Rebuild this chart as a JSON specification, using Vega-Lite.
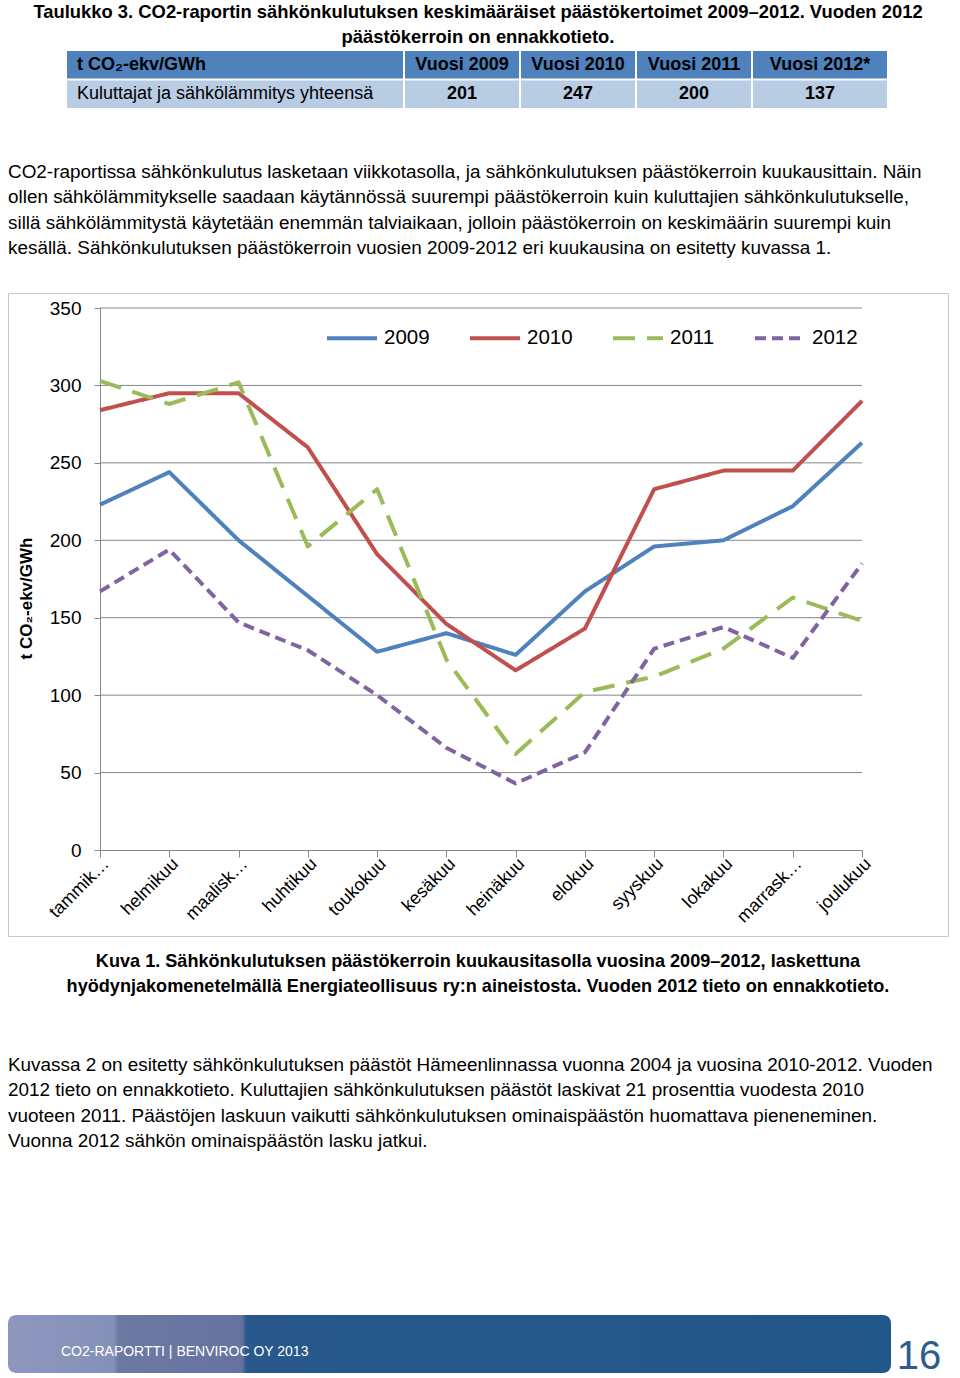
{
  "$schema": "https://vega.github.io/schema/vega-lite/v6.json",
  "background": "white",
  "padding": {"left": 7, "top": 2, "right": 0, "bottom": 3},
  "spacing": 34,
  "resolve": {"scale": {"color": "independent", "strokeDash": "independent"}, "legend": {"color": "independent", "strokeDash": "independent"}},
  "config": {
    "font": "Liberation Sans",
    "view": {"stroke": null},
    "title": {"font": "Liberation Sans", "color": "#000000"}
  },
  "title": {
    "text": ["Taulukko 3. CO2-raportin sähkönkulutuksen keskimääräiset päästökertoimet 2009–2012.  Vuoden 2012", "päästökerroin on ennakkotieto."],
    "anchor": "middle", "fontSize": 18.4, "fontWeight": "bold", "lineHeight": 25, "offset": 5
  },
  "datasets": {
    "table": [
      {"row": "h", "col": "label", "text": "t CO₂-ekv/GWh"},
      {"row": "h", "col": "2009", "text": "Vuosi 2009"},
      {"row": "h", "col": "2010", "text": "Vuosi 2010"},
      {"row": "h", "col": "2011", "text": "Vuosi 2011"},
      {"row": "h", "col": "2012", "text": "Vuosi 2012*"},
      {"row": "d", "col": "label", "text": "Kuluttajat ja sähkölämmitys yhteensä"},
      {"row": "d", "col": "2009", "text": "201"},
      {"row": "d", "col": "2010", "text": "247"},
      {"row": "d", "col": "2011", "text": "200"},
      {"row": "d", "col": "2012", "text": "137"}
    ],
    "grid": [{"v": 50}, {"v": 100}, {"v": 150}, {"v": 200}, {"v": 250}, {"v": 300}, {"v": 350}],
    "monthly": [
      {"month": "tammikuu", "year": "2009", "value": 223},
      {"month": "helmikuu", "year": "2009", "value": 244},
      {"month": "maaliskuu", "year": "2009", "value": 200},
      {"month": "huhtikuu", "year": "2009", "value": 164},
      {"month": "toukokuu", "year": "2009", "value": 128},
      {"month": "kesäkuu", "year": "2009", "value": 140},
      {"month": "heinäkuu", "year": "2009", "value": 126},
      {"month": "elokuu", "year": "2009", "value": 167},
      {"month": "syyskuu", "year": "2009", "value": 196},
      {"month": "lokakuu", "year": "2009", "value": 200},
      {"month": "marraskuu", "year": "2009", "value": 222},
      {"month": "joulukuu", "year": "2009", "value": 263},
      {"month": "tammikuu", "year": "2010", "value": 284},
      {"month": "helmikuu", "year": "2010", "value": 295},
      {"month": "maaliskuu", "year": "2010", "value": 295},
      {"month": "huhtikuu", "year": "2010", "value": 260},
      {"month": "toukokuu", "year": "2010", "value": 191},
      {"month": "kesäkuu", "year": "2010", "value": 146},
      {"month": "heinäkuu", "year": "2010", "value": 116},
      {"month": "elokuu", "year": "2010", "value": 143},
      {"month": "syyskuu", "year": "2010", "value": 233},
      {"month": "lokakuu", "year": "2010", "value": 245},
      {"month": "marraskuu", "year": "2010", "value": 245},
      {"month": "joulukuu", "year": "2010", "value": 290},
      {"month": "tammikuu", "year": "2011", "value": 303},
      {"month": "helmikuu", "year": "2011", "value": 288},
      {"month": "maaliskuu", "year": "2011", "value": 302},
      {"month": "huhtikuu", "year": "2011", "value": 196},
      {"month": "toukokuu", "year": "2011", "value": 233},
      {"month": "kesäkuu", "year": "2011", "value": 123},
      {"month": "heinäkuu", "year": "2011", "value": 62},
      {"month": "elokuu", "year": "2011", "value": 102},
      {"month": "syyskuu", "year": "2011", "value": 112},
      {"month": "lokakuu", "year": "2011", "value": 130},
      {"month": "marraskuu", "year": "2011", "value": 163},
      {"month": "joulukuu", "year": "2011", "value": 148},
      {"month": "tammikuu", "year": "2012", "value": 167},
      {"month": "helmikuu", "year": "2012", "value": 194},
      {"month": "maaliskuu", "year": "2012", "value": 147},
      {"month": "huhtikuu", "year": "2012", "value": 129},
      {"month": "toukokuu", "year": "2012", "value": 100},
      {"month": "kesäkuu", "year": "2012", "value": 66},
      {"month": "heinäkuu", "year": "2012", "value": 43},
      {"month": "elokuu", "year": "2012", "value": 63},
      {"month": "syyskuu", "year": "2012", "value": 130},
      {"month": "lokakuu", "year": "2012", "value": 144},
      {"month": "marraskuu", "year": "2012", "value": 124},
      {"month": "joulukuu", "year": "2012", "value": 185}
    ]
  },
  "vconcat": [
    {
      "width": 940,
      "height": 57,
      "data": {"name": "table"},
      "title": {
        "text": [
          "CO2-raportissa sähkönkulutus lasketaan viikkotasolla, ja sähkönkulutuksen päästökerroin kuukausittain. Näin",
          "ollen sähkölämmitykselle saadaan käytännössä suurempi päästökerroin kuin kuluttajien sähkönkulutukselle,",
          "sillä sähkölämmitystä käytetään enemmän talviaikaan, jolloin päästökerroin on keskimäärin suurempi kuin",
          "kesällä. Sähkönkulutuksen päästökerroin vuosien 2009-2012 eri kuukausina on esitetty kuvassa 1."
        ],
        "orient": "bottom", "anchor": "start", "frame": "group", "offset": 55,
        "fontSize": 18.9, "fontWeight": "normal", "lineHeight": 25.3
      },
      "encoding": {
        "y": {"field": "row", "type": "nominal", "axis": null,
              "scale": {"domain": ["h", "d"], "paddingInner": 0.06, "paddingOuter": 0}}
      },
      "layer": [
        {
          "transform": [{"filter": "datum.row == 'h' && datum.col == 'label'"}],
          "mark": {"type": "rect", "color": "#4F81BD"},
          "encoding": {
            "x": {"field": "col", "type": "nominal", "axis": null,
                  "scale": {"type": "band", "range": [59, 395], "paddingInner": 0, "paddingOuter": 0}}
          }
        },
        {
          "transform": [{"filter": "datum.row == 'd' && datum.col == 'label'"}],
          "mark": {"type": "rect", "color": "#B8CCE4"},
          "encoding": {
            "x": {"field": "col", "type": "nominal", "axis": null,
                  "scale": {"type": "band", "range": [59, 395], "paddingInner": 0, "paddingOuter": 0}}
          }
        },
        {
          "transform": [{"filter": "datum.row == 'h' && datum.col != 'label' && datum.col != '2012'"}],
          "mark": {"type": "rect", "color": "#4F81BD"},
          "encoding": {
            "x": {"field": "col", "type": "nominal", "axis": null,
                  "scale": {"type": "band", "domain": ["2009", "2010", "2011"], "range": [397, 743], "paddingInner": 0.017, "paddingOuter": 0}}
          }
        },
        {
          "transform": [{"filter": "datum.row == 'd' && datum.col != 'label' && datum.col != '2012'"}],
          "mark": {"type": "rect", "color": "#B8CCE4"},
          "encoding": {
            "x": {"field": "col", "type": "nominal", "axis": null,
                  "scale": {"type": "band", "domain": ["2009", "2010", "2011"], "range": [397, 743], "paddingInner": 0.017, "paddingOuter": 0}}
          }
        },
        {
          "transform": [{"filter": "datum.row == 'h' && datum.col == '2012'"}],
          "mark": {"type": "rect", "color": "#4F81BD"},
          "encoding": {
            "x": {"field": "col", "type": "nominal", "axis": null,
                  "scale": {"type": "band", "range": [745, 879], "paddingInner": 0, "paddingOuter": 0}}
          }
        },
        {
          "transform": [{"filter": "datum.row == 'd' && datum.col == '2012'"}],
          "mark": {"type": "rect", "color": "#B8CCE4"},
          "encoding": {
            "x": {"field": "col", "type": "nominal", "axis": null,
                  "scale": {"type": "band", "range": [745, 879], "paddingInner": 0, "paddingOuter": 0}}
          }
        },
        {
          "transform": [{"filter": "datum.col == 'label' && datum.row == 'h'"}],
          "mark": {"type": "text", "align": "left", "baseline": "middle", "dx": 10, "fontSize": 18, "fontWeight": "bold", "color": "#000000"},
          "encoding": {
            "x": {"field": "col", "type": "nominal", "axis": null, "bandPosition": 0,
                  "scale": {"type": "band", "range": [59, 395], "paddingInner": 0, "paddingOuter": 0}},
            "text": {"field": "text"}
          }
        },
        {
          "transform": [{"filter": "datum.col == 'label' && datum.row == 'd'"}],
          "mark": {"type": "text", "align": "left", "baseline": "middle", "dx": 10, "fontSize": 18, "fontWeight": "normal", "color": "#000000"},
          "encoding": {
            "x": {"field": "col", "type": "nominal", "axis": null, "bandPosition": 0,
                  "scale": {"type": "band", "range": [59, 395], "paddingInner": 0, "paddingOuter": 0}},
            "text": {"field": "text"}
          }
        },
        {
          "transform": [{"filter": "datum.col != 'label' && datum.col != '2012'"}],
          "mark": {"type": "text", "align": "center", "baseline": "middle", "fontSize": 18, "fontWeight": "bold", "color": "#000000"},
          "encoding": {
            "x": {"field": "col", "type": "nominal", "axis": null, "bandPosition": 0.5,
                  "scale": {"type": "band", "domain": ["2009", "2010", "2011"], "range": [397, 743], "paddingInner": 0.017, "paddingOuter": 0}},
            "text": {"field": "text"}
          }
        },
        {
          "transform": [{"filter": "datum.col == '2012'"}],
          "mark": {"type": "text", "align": "center", "baseline": "middle", "fontSize": 18, "fontWeight": "bold", "color": "#000000"},
          "encoding": {
            "x": {"field": "col", "type": "nominal", "axis": null, "bandPosition": 0.5,
                  "scale": {"type": "band", "range": [745, 879], "paddingInner": 0, "paddingOuter": 0}},
            "text": {"field": "text"}
          }
        }
      ],
      "resolve": {"scale": {"x": "independent"}}
    },
    {
      "width": 940,
      "height": 643,
      "view": {"stroke": "#c8c8c8", "strokeWidth": 1},
      "title": {
        "text": [
          "Kuva 1. Sähkönkulutuksen päästökerroin kuukausitasolla vuosina 2009–2012, laskettuna",
          "hyödynjakomenetelmällä Energiateollisuus ry:n aineistosta. Vuoden 2012 tieto on ennakkotieto.",
          ""
        ],
        "orient": "bottom", "anchor": "middle", "frame": "group", "offset": 17,
        "fontSize": 18.1, "fontWeight": "bold", "lineHeight": 25
      },
      "layer": [
        {
          "data": {"name": "grid"},
          "mark": {"type": "rule", "color": "#868686", "strokeWidth": 1},
          "encoding": {
            "y": {
              "field": "v", "type": "quantitative",
              "scale": {"domain": [0, 350], "range": [557, 15], "nice": false},
              "axis": {
                "orient": "left", "offset": -92, "values": [0, 50, 100, 150, 200, 250, 300, 350],
                "grid": false, "domainColor": "#868686", "tickColor": "#868686", "tickSize": 6,
                "labelPadding": 13, "labelFontSize": 19, "labelColor": "#000000",
                "title": "t CO₂-ekv/GWh", "titleFontSize": 17, "titleFontWeight": "bold", "titleColor": "#000000",
                "titlePadding": 14, "titleY": 305
              }
            },
            "x": {"datum": "tammikuu", "type": "ordinal"},
            "x2": {"datum": "joulukuu"}
          }
        },
        {
          "data": {"name": "monthly"},
          "mark": {"type": "line", "strokeWidth": 4, "strokeJoin": "round"},
          "encoding": {
            "x": {
              "field": "month", "type": "ordinal",
              "scale": {"type": "point", "padding": 0, "range": [92, 854],
                        "domain": ["tammikuu", "helmikuu", "maaliskuu", "huhtikuu", "toukokuu", "kesäkuu", "heinäkuu", "elokuu", "syyskuu", "lokakuu", "marraskuu", "joulukuu"]},
              "axis": {
                "orient": "bottom", "offset": -86, "title": null,
                "labelAngle": -45, "labelAlign": "right", "labelBaseline": "middle",
                "labelFontSize": 18, "labelColor": "#000000", "labelPadding": 4, "labelOffset": 6,
                "tickSize": 7, "tickColor": "#868686", "domainColor": "#868686", "grid": false,
                "labelExpr": "datum.label == 'tammikuu' ? 'tammik…' : datum.label == 'maaliskuu' ? 'maalisk…' : datum.label == 'marraskuu' ? 'marrask…' : datum.label"
              }
            },
            "y": {
              "field": "value", "type": "quantitative",
              "scale": {"domain": [0, 350], "range": [557, 15], "nice": false},
              "axis": {
                "orient": "left", "offset": -92, "values": [0, 50, 100, 150, 200, 250, 300, 350],
                "grid": false, "domainColor": "#868686", "tickColor": "#868686", "tickSize": 6,
                "labelPadding": 13, "labelFontSize": 19, "labelColor": "#000000",
                "title": "t CO₂-ekv/GWh", "titleFontSize": 17, "titleFontWeight": "bold", "titleColor": "#000000",
                "titlePadding": 14, "titleY": 305
              }
            },
            "color": {
              "field": "year", "type": "nominal",
              "scale": {"domain": ["2009", "2010", "2011", "2012"], "range": ["#4F81BD", "#C0504D", "#9BBB59", "#8064A2"]},
              "legend": {
                "orient": "none", "legendX": 317, "legendY": 18, "direction": "horizontal", "title": null,
                "symbolType": "stroke", "symbolSize": 2500, "symbolStrokeWidth": 4,
                "labelFontSize": 20.5, "labelColor": "#000000", "labelOffset": 5, "columnPadding": 32
              }
            },
            "strokeDash": {
              "field": "year", "type": "nominal",
              "scale": {"domain": ["2009", "2010", "2011", "2012"], "range": [[1, 0], [1, 0], [22, 12], [11, 6]]}
            }
          }
        }
      ]
    },
    {
      "title": {
        "text": [
          "Kuvassa 2 on esitetty sähkönkulutuksen päästöt Hämeenlinnassa  vuonna 2004 ja vuosina 2010-2012. Vuoden",
          "2012 tieto on ennakkotieto. Kuluttajien sähkönkulutuksen päästöt laskivat 21 prosenttia vuodesta 2010",
          "vuoteen 2011. Päästöjen laskuun vaikutti  sähkönkulutuksen ominaispäästön huomattava pieneneminen.",
          "Vuonna 2012 sähkön ominaispäästön lasku jatkui."
        ],
        "orient": "top", "anchor": "start", "frame": "group", "offset": 164,
        "fontSize": 18.9, "fontWeight": "normal", "lineHeight": 25.3
      },
      "spacing": 5,
      "hconcat": [
        {
          "width": 883,
          "height": 58,
          "data": {"values": [{"band": "footer"}]},
          "title": {
            "text": "CO2-RAPORTTI | BENVIROC OY 2013",
            "orient": "bottom", "anchor": "start", "frame": "group", "offset": -28, "dx": 53,
            "fontSize": 14, "fontWeight": "normal", "color": "#ffffff"
          },
          "mark": {
            "type": "rect", "cornerRadius": 8,
            "color": {
              "gradient": "linear", "x1": 0, "x2": 1, "y1": 0, "y2": 0,
              "stops": [
                {"offset": 0, "color": "#8E98BE"},
                {"offset": 0.12, "color": "#8590B8"},
                {"offset": 0.125, "color": "#6C79A3"},
                {"offset": 0.265, "color": "#66739E"},
                {"offset": 0.27, "color": "#28588C"},
                {"offset": 1, "color": "#22578A"}
              ]
            }
          }
        },
        {
          "width": 40,
          "height": 58,
          "data": {"values": [{"page": "16"}]},
          "mark": {"type": "text", "fontSize": 40, "color": "#2C5D8F", "baseline": "middle", "dy": 13},
          "encoding": {"text": {"field": "page"}}
        }
      ]
    }
  ]
}
